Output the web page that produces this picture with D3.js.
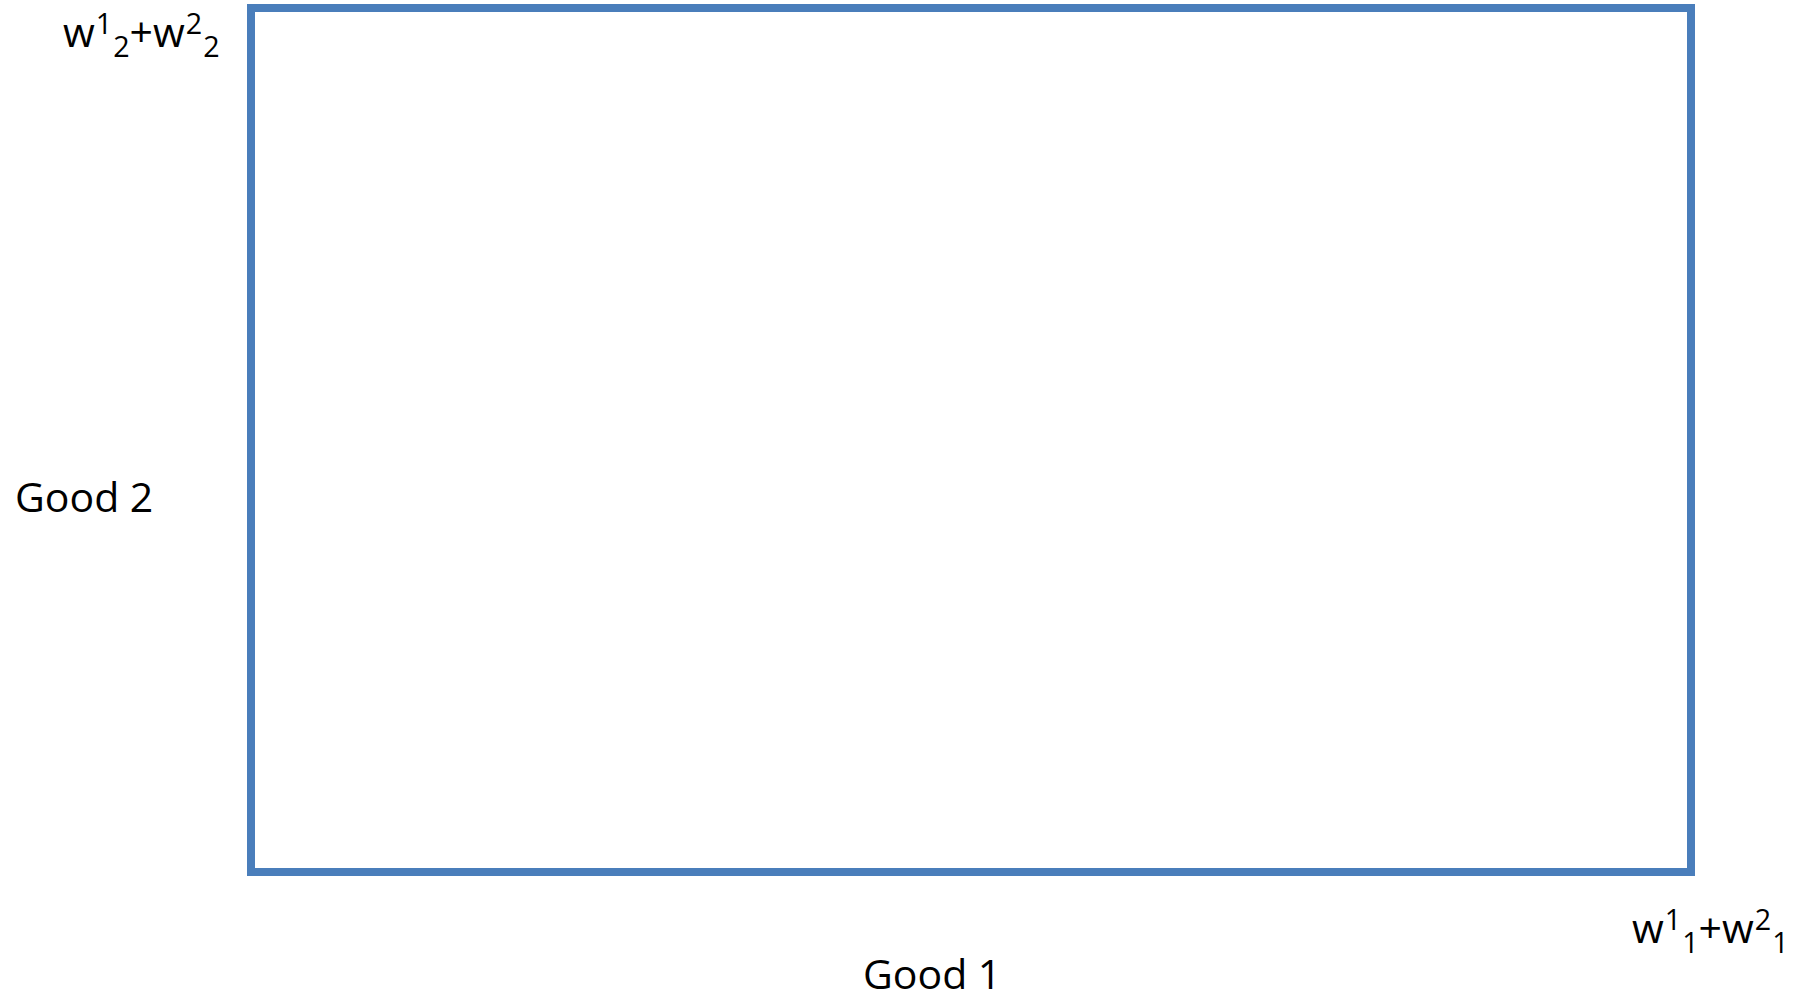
<!DOCTYPE html>
<html><head><meta charset="utf-8">
<script src="https://d3js.org/d3.v7.min.js"></script>
<style>body{margin:0;background:#fff;overflow:hidden}</style>
</head><body>
<script>
// Edgeworth box: total endowments of each good
const goods = ["Good 1", "Good 2"];
const totals = [1, 1];           // w^1_i + w^2_i for good 1, good 2
const topLabelParts = [["w","base"],["1","sup"],["2","sub"],["+w","base"],["2","sup"],["2","sub"]];
const rightLabelParts = [["w","base"],["1","sup"],["1","sub"],["+w","base"],["2","sup"],["1","sub"]];

const W = 1805, H = 998;
const svg = d3.select("body").append("svg").attr("width", W).attr("height", H);
const x = d3.scaleLinear().domain([0, totals[0]]).range([251, 1691]);
const y = d3.scaleLinear().domain([0, totals[1]]).range([872, 8]);

const blue = "#4a7ebb";
const font = "'Open Sans', sans-serif";
const fs = 41;

svg.append("rect")
  .attr("x", x(0)).attr("y", y(totals[1]))
  .attr("width", x(totals[0]) - x(0)).attr("height", y(0) - y(totals[1]))
  .attr("fill", "none").attr("stroke", blue).attr("stroke-width", 8);

function richLabel(parts, px, py) {
  const t = svg.append("text").attr("x", px).attr("y", py)
    .attr("font-family", font).attr("font-size", fs).attr("fill", "#000");
  let cur = 0;
  parts.forEach(([s, kind]) => {
    const target = kind === "sup" ? -13 : kind === "sub" ? 10 : 0;
    t.append("tspan").text(s)
      .attr("dy", target - cur)
      .attr("dx", kind === "base" ? 0 : 1)
      .attr("font-size", kind === "base" ? fs : fs * 0.7);
    cur = target;
  });
  return t;
}

richLabel(topLabelParts, 63, 47);
richLabel(rightLabelParts, 1632, 943);

svg.append("text").attr("x", 15).attr("y", 512)
  .attr("font-family", font).attr("font-size", fs).text(goods[1]);
svg.append("text").attr("x", 863).attr("y", 989)
  .attr("font-family", font).attr("font-size", fs).text(goods[0]);
</script>
</body></html>
